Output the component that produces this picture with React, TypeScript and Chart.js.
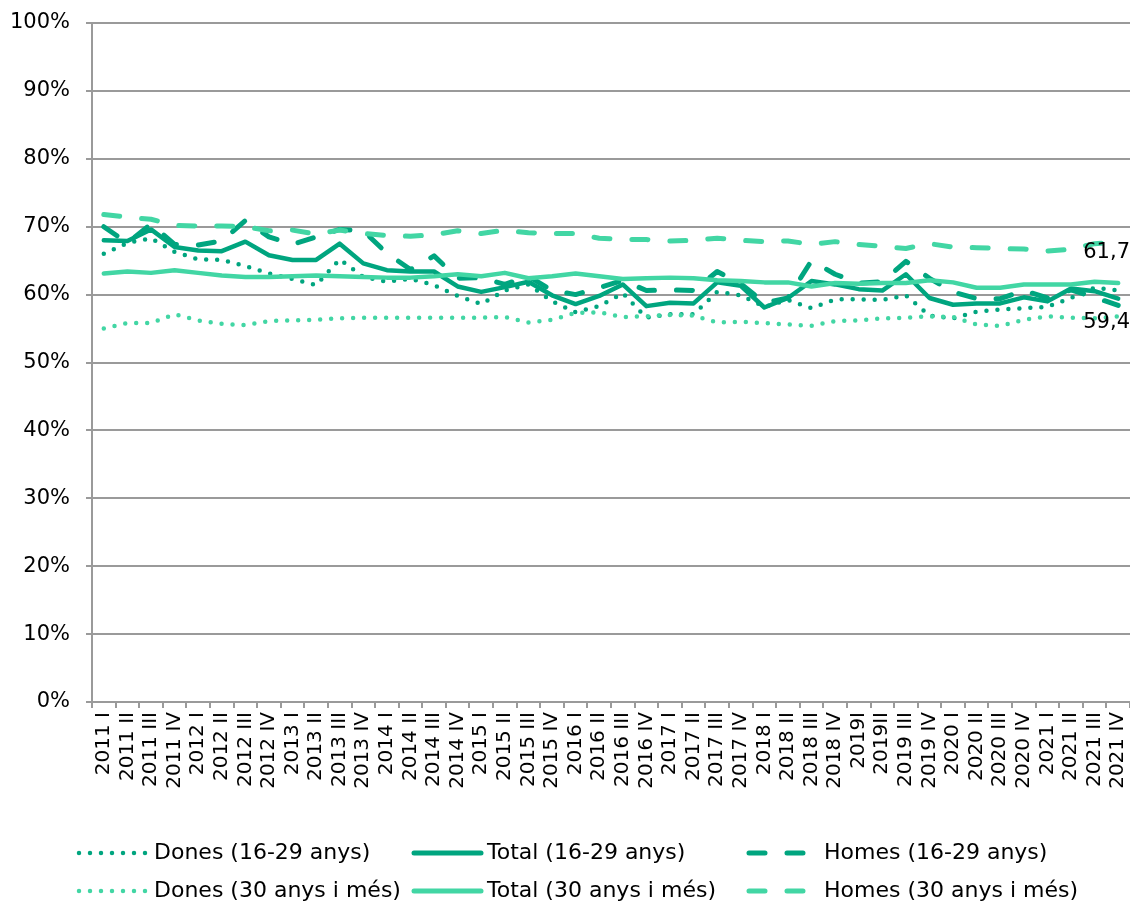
import { useEffect, useRef } from "react";
import { Chart, registerables } from "chart.js";

Chart.register(...registerables);

const categories = [
  "2011 I", "2011 II", "2011 III", "2011 IV",
  "2012 I", "2012 II", "2012 III", "2012 IV",
  "2013 I", "2013 II", "2013 III", "2013 IV",
  "2014 I", "2014 II", "2014 III", "2014 IV",
  "2015 I", "2015 II", "2015 III", "2015 IV",
  "2016 I", "2016 II", "2016 III", "2016 IV",
  "2017 I", "2017 II", "2017 III", "2017 IV",
  "2018 I", "2018 II", "2018 III", "2018 IV",
  "2019I", "2019II", "2019 III", "2019 IV",
  "2020 I", "2020 II", "2020 III", "2020 IV",
  "2021 I", "2021 II", "2021 III", "2021 IV",
];

const dones1629 = [
  66.0, 67.6, 68.3, 66.3, 65.2, 65.1, 64.2, 63.1, 62.3, 61.4, 65.2,
  62.6, 61.9, 62.3, 61.4, 59.8, 58.6, 60.6, 61.5, 59.0, 57.4, 58.3,
  60.2, 56.6, 57.1, 57.1, 60.4, 59.9, 58.2, 59.2, 58.0, 59.3, 59.3,
  59.2, 59.9, 56.9, 56.5, 57.5, 57.8, 58.0, 58.2, 59.5, 61.0, 60.6,
];

const total1629 = [
  68.0, 67.9, 69.6, 67.0, 66.5, 66.4, 67.8, 65.8, 65.1, 65.1, 67.5,
  64.6, 63.6, 63.4, 63.4, 61.2, 60.4, 61.1, 61.9, 59.9, 58.6, 59.8,
  61.5, 58.3, 58.8, 58.7, 61.8, 61.3, 58.1, 59.5, 62.0, 61.5, 60.8,
  60.6, 63.0, 59.5, 58.5, 58.7, 58.7, 59.6, 59.0, 60.9, 60.5, 59.4,
];

const homes1629 = [
  70.0, 67.6, 70.4, 67.4, 67.3, 67.9, 70.9, 68.5, 67.4, 68.5, 69.6,
  69.4, 66.1, 63.7, 65.7, 62.4, 62.5, 61.5, 62.7, 60.6, 60.0, 61.0,
  62.1, 60.6, 60.7, 60.6, 63.4, 61.6, 58.8, 59.5, 65.0, 63.0, 61.7,
  61.9, 64.9, 62.4, 60.4, 59.4, 59.4, 60.6, 59.5, 60.7, 59.6, 58.4,
];

const dones30 = [
  55.0, 55.8, 55.8, 57.1, 56.2, 55.7, 55.5, 56.1, 56.2, 56.3, 56.5,
  56.6, 56.6, 56.6, 56.6, 56.6, 56.6, 56.7, 55.9, 56.3, 57.3, 57.4,
  56.7, 56.8, 57.0, 56.9, 55.9, 56.0, 55.8, 55.6, 55.4, 56.1, 56.2,
  56.5, 56.6, 56.8, 56.7, 55.6, 55.4, 56.3, 56.8, 56.6, 56.5, 56.8,
];

const total30 = [
  63.1, 63.4, 63.2, 63.6, 63.2, 62.8, 62.6, 62.6, 62.7, 62.8, 62.7,
  62.6, 62.5, 62.5, 62.7, 63.0, 62.7, 63.2, 62.4, 62.7, 63.1, 62.7,
  62.3, 62.4, 62.5, 62.4, 62.1, 62.0, 61.8, 61.8, 61.2, 61.7, 61.6,
  61.7, 61.7, 62.1, 61.8, 61.0, 61.0, 61.5, 61.5, 61.5, 61.9, 61.7,
];

const homes30 = [
  71.8, 71.4, 71.1, 70.2, 70.1, 70.1, 70.0, 69.4, 69.5, 68.9, 69.5,
  69.0, 68.7, 68.6, 68.8, 69.4, 69.0, 69.5, 69.1, 69.0, 69.0, 68.3,
  68.1, 68.1, 67.9, 68.0, 68.3, 68.0, 67.8, 67.9, 67.4, 67.8, 67.4,
  67.1, 66.8, 67.5, 67.0, 66.9, 66.8, 66.7, 66.4, 66.7, 67.5, 67.7,
];

const legendLabels = [
  "Dones (16-29 anys)", "Total (16-29 anys)", "Homes (16-29 anys)",
  "Dones (30 anys i més)", "Total (30 anys i més)", "Homes (30 anys i més)",
];

const yTickValues = [0, 10, 20, 30, 40, 50, 60, 70, 80, 90, 100];

const DARK = "#00A57F";
const LIGHT = "#42D6A4";
const GRID = "#9a9a9a";
const FONT = "'DejaVu Sans', Verdana, sans-serif";

const DOT = [0, 11];
const DASH = [16, 22];

const fmt = (v: number) => v.toFixed(1).replace(".", ",");

const endLabelsPlugin = {
  id: "endLabels",
  afterDatasetsDraw(chart: any) {
    const { ctx, scales, chartArea } = chart;
    const y = scales.y;
    ctx.save();
    ctx.font = `21px ${FONT}`;
    ctx.fillStyle = "#000";
    ctx.textAlign = "right";
    ctx.textBaseline = "middle";
    const v1 = total30[total30.length - 1];
    const v2 = total1629[total1629.length - 1];
    ctx.fillText(fmt(v1), chartArea.right, y.getPixelForValue(v1) - 31);
    ctx.fillText(fmt(v2), chartArea.right, y.getPixelForValue(v2) + 24);
    ctx.restore();
  },
};

const legendPlugin = {
  id: "customLegend",
  afterDraw(chart: any) {
    const { ctx } = chart;
    const rows = [853, 891];
    const cols = [
      { x0: 79, x1: 148, tx: 154 },
      { x0: 414, x1: 481, tx: 487 },
      { x0: 749, x1: 805, tx: 824 },
    ];
    const dashes = [DOT, [], DASH];
    const colors = [DARK, LIGHT];
    ctx.save();
    for (let r = 0; r < 2; r++) {
      for (let c = 0; c < 3; c++) {
        const col = cols[c];
        const yy = rows[r];
        ctx.beginPath();
        ctx.strokeStyle = colors[r];
        ctx.lineWidth = c === 0 ? 4.5 : 5;
        ctx.lineCap = "round";
        ctx.setLineDash(dashes[c]);
        ctx.moveTo(col.x0, yy);
        ctx.lineTo(col.x1, yy);
        ctx.stroke();
        ctx.setLineDash([]);
        ctx.font = `22px ${FONT}`;
        ctx.fillStyle = "#000";
        ctx.textAlign = "left";
        ctx.textBaseline = "middle";
        ctx.fillText(legendLabels[r * 3 + c], col.tx, yy);
      }
    }
    ctx.restore();
  },
};

function ds(label: string, data: number[], color: string, dash: number[], width: number, order: number) {
  return {
    label,
    data,
    borderColor: color,
    backgroundColor: color,
    borderWidth: width,
    borderDash: dash,
    borderCapStyle: "round" as const,
    borderJoinStyle: "round" as const,
    pointRadius: 0,
    tension: 0,
    fill: false,
    order,
  };
}

export default function App() {
  const ref = useRef<HTMLCanvasElement>(null);

  useEffect(() => {
    const chart = new Chart(ref.current as HTMLCanvasElement, {
      type: "line",
      data: {
        labels: categories,
        datasets: [
          ds(legendLabels[0], dones1629, DARK, DOT, 4.5, 6),
          ds(legendLabels[1], total1629, DARK, [], 4.5, 5),
          ds(legendLabels[2], homes1629, DARK, DASH, 5, 4),
          ds(legendLabels[3], dones30, LIGHT, DOT, 4.5, 3),
          ds(legendLabels[4], total30, LIGHT, [], 4.5, 2),
          ds(legendLabels[5], homes30, LIGHT, DASH, 5, 1),
        ] as any,
      },
      options: {
        responsive: false,
        animation: false,
        layout: { padding: { top: 23, left: 0, right: 0, bottom: 0 } },
        plugins: {
          legend: { display: false },
          tooltip: { enabled: false },
        },
        scales: {
          x: {
            offset: true,
            grid: {
              offset: true,
              drawOnChartArea: false,
              drawTicks: true,
              tickLength: 6,
              color: GRID,
              lineWidth: 2,
            },
            border: { display: true, color: GRID, width: 2 },
            ticks: {
              autoSkip: false,
              minRotation: 90,
              maxRotation: 90,
              padding: 4,
              color: "#000",
              font: { family: FONT, size: 20 },
            },
            afterFit: (s: any) => {
              s.height = 203;
              s.paddingLeft = 0;
              s.paddingRight = 0;
            },
          },
          y: {
            min: 0,
            max: 100,
            afterBuildTicks: (s: any) => {
              s.ticks = yTickValues.map((v) => ({ value: v }));
            },
            ticks: {
              callback: (v: any) => `${v}%`,
              padding: 16,
              color: "#000",
              font: { family: FONT, size: 21 },
            },
            grid: { color: GRID, lineWidth: 2, tickLength: 6 },
            border: { display: true, color: GRID, width: 2 },
            afterFit: (s: any) => {
              s.width = 92;
              s.paddingTop = 0;
              s.paddingBottom = 0;
            },
          },
        },
      } as any,
      plugins: [endLabelsPlugin, legendPlugin],
    });
    return () => chart.destroy();
  }, []);

  return (
    <div style={{ position: "absolute", left: 0, top: 0, width: 1130, height: 905, background: "#fff" }}>
      <canvas ref={ref} width={1130} height={905} style={{ display: "block", width: 1130, height: 905 }} />
    </div>
  );
}
